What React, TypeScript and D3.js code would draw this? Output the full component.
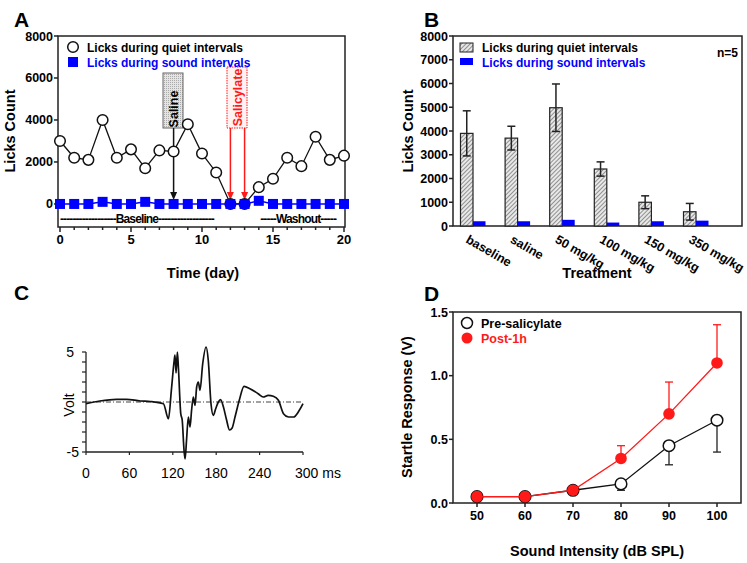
import React from 'react';
import * as d3 from 'd3';

// ---------- Panel A data ----------
const daysA = [0,1,2,3,4,5,6,7,8,9,10,11,12,13,14,15,16,17,18,19,20];
const quietA = [3000,2200,2100,4000,2200,2600,1700,2550,2500,3800,2400,1500,0,0,800,1200,2200,1800,3200,2100,2300];
const soundA = [0,0,0,100,0,0,100,0,0,0,0,0,0,0,150,0,0,0,0,0,0];
const yTicksA = [0,2000,4000,6000,8000];
const xMajorA = [0,5,10,15,20];

// ---------- Panel B data ----------
const treatments = ['baseline','saline','50 mg/kg','100 mg/kg','150 mg/kg','350 mg/kg'];
const quietB = [3900,3700,4980,2400,1000,600];
const quietErrB = [950,500,1000,300,270,350];
const soundB = [180,180,230,130,180,200];
const soundErrB = [20,20,30,15,20,25];
const yTicksB = [0,1000,2000,3000,4000,5000,6000,7000,8000];

// ---------- Panel C data ----------
const traceT = [0,19,42,56,75,89,107,114,118,122,123,124.5,126.3,127.7,131,133,135.5,137,139,141.5,143.8,146,148.4,150.7,153,155.3,157.6,161.3,166,169,172.8,176,179.3,183,186,190,194,198.5,202,206,212,218.5,226.7,238,245,252,259,266,273,280,287,293.5,300];
const traceV = [-0.17,0.1,0.27,0.27,0.1,0.05,-0.17,-1.67,1.17,4.2,4.7,2.9,5.0,3.5,-1.17,-1.8,-4.8,-5.7,-3.8,-1.5,-2.5,-0.8,0.5,-0.33,1.5,2.0,1.17,3.8,5.5,4.2,-0.17,-1.33,-0.67,0,0.23,-0.5,-1.7,-2.8,-2.6,-1.5,0.2,1.57,1.33,0.83,0.5,0.67,0.57,0.17,-1.17,-1.5,-1.5,-1.0,-0.17];
const xTicksC = [0,60,120,180,240,300];
const yTicksC = [-5,-4,-3,-2,-1,0,1,2,3,4,5];

// ---------- Panel D data ----------
const intensities = [50,60,70,80,90,100];
const preD = [0.05,0.05,0.1,0.15,0.45,0.65];
const preErrD = [0,0,0,0.05,0.15,0.25];
const postD = [0.05,0.05,0.1,0.35,0.7,1.1];
const postErrD = [0,0,0,0.1,0.25,0.3];
const yTicksD = [0,0.5,1.0,1.5];

const FONT = '"Liberation Sans", Arial, Helvetica, sans-serif';
const BLUE = '#0000ff';
const RED = '#ff1a1a';

function PanelA() {
  const x = d3.scaleLinear().domain([0, 20]).range([60, 344]);
  const y = d3.scaleLinear().domain([-1050, 8000]).range([226, 36]);
  const left = 58, right = 345, top = 36, bottom = 227;
  const lineQ = d3.line<number>().x((_, i) => x(daysA[i])).y(d => y(d));
  const lineS = d3.line<number>().x((_, i) => x(daysA[i])).y(d => y(d));
  const arrowTip = y(0) - 4;
  const arrow = (xx: number, y0: number, color: string, key: string) => (
    <g key={key}>
      <line x1={xx} x2={xx} y1={y0} y2={arrowTip - 6} stroke={color} strokeWidth={1.5} />
      <path d={`M${xx - 3.5},${arrowTip - 8} L${xx + 3.5},${arrowTip - 8} L${xx},${arrowTip} Z`} fill={color} />
    </g>
  );
  return (
    <g fontFamily={FONT} fontWeight="bold">
      <text x={14} y={27} fontSize={21}>A</text>
      <rect x={left} y={top} width={right - left} height={bottom - top} fill="none" stroke="#222" strokeWidth={1.5} />
      {yTicksA.map(t => (
        <g key={t}>
          <line x1={left - 4} x2={left} y1={y(t)} y2={y(t)} stroke="#222" strokeWidth={1.5} />
          <text x={left - 5} y={y(t) + 4.5} fontSize={12.5} textAnchor="end">{t}</text>
        </g>
      ))}
      {daysA.map(d => (
        <line key={d} x1={x(d)} x2={x(d)} y1={bottom} y2={bottom + (xMajorA.includes(d) ? 5 : 3)} stroke="#222" strokeWidth={1.5} />
      ))}
      {xMajorA.map(d => (
        <text key={d} x={x(d)} y={244} fontSize={13} textAnchor="middle">{d}</text>
      ))}
      <text transform={`translate(15,131) rotate(-90)`} fontSize={14.5} textAnchor="middle">Licks Count</text>
      <text x={203} y={278} fontSize={14.5} textAnchor="middle">Time (day)</text>
      <text x={x(0)} y={223} fontSize={12} textLength={x(10.9) - x(0)} lengthAdjust="spacing">------------------Baseline------------------</text>
      <text x={x(14.1)} y={223} fontSize={12} textLength={x(19.5) - x(14.1)} lengthAdjust="spacing">-----Washout-----</text>
      <defs>
        <pattern id="dots" width={2} height={2} patternUnits="userSpaceOnUse">
          <rect width={2} height={2} fill="#e4e4e4" />
          <rect width={1} height={1} fill="#aaa" />
        </pattern>
      </defs>
      <rect x={163} y={73} width={20} height={55} fill="url(#dots)" stroke="#666" strokeWidth={1} />
      <text transform={`translate(177.5,109) rotate(-90)`} fontSize={12.5} textAnchor="middle">Saline</text>
      <rect x={227} y={67} width={20} height={61} fill="#fff2f2" stroke={RED} strokeWidth={1} strokeDasharray="1.5,1" />
      <text transform={`translate(241.5,97.5) rotate(-90)`} fontSize={12.5} textAnchor="middle" fill={RED}>Salicylate</text>
      {arrow(x(8), 128, '#111', 'a1')}
      {arrow(x(12), 128, RED, 'a2')}
      {arrow(x(13), 128, RED, 'a3')}
      <path d={lineQ(quietA) || ''} fill="none" stroke="#111" strokeWidth={1.3} />
      {quietA.map((v, i) => (
        <circle key={i} cx={x(daysA[i])} cy={y(v)} r={5.3} fill="#fff" stroke="#111" strokeWidth={1.5} />
      ))}
      <path d={lineS(soundA) || ''} fill="none" stroke={BLUE} strokeWidth={1.5} />
      {soundA.map((v, i) => (
        <rect key={i} x={x(daysA[i]) - 5} y={y(v) - 5} width={10} height={10} fill={BLUE} />
      ))}
      <circle cx={73} cy={47} r={5.3} fill="#fff" stroke="#111" strokeWidth={1.5} />
      <text x={87} y={52} fontSize={12}>Licks during quiet intervals</text>
      <rect x={68} y={57} width={10} height={10} fill={BLUE} />
      <text x={87} y={67} fontSize={12} fill={BLUE}>Licks during sound intervals</text>
    </g>
  );
}

function PanelB() {
  const gx = d3.scalePoint<string>().domain(treatments).range([473, 696]);
  const y = d3.scaleLinear().domain([0, 8000]).range([226, 36]);
  const left = 453, right = 742, top = 36, bottom = 226;
  const bw = 12.5;
  return (
    <g fontFamily={FONT} fontWeight="bold">
      <defs>
        <pattern id="hatch" width={3} height={3} patternUnits="userSpaceOnUse" patternTransform="rotate(45)">
          <rect width={3} height={3} fill="#e8e8e8" />
          <line x1={0} y1={0} x2={0} y2={3} stroke="#555" strokeWidth={1.2} />
        </pattern>
      </defs>
      <text x={424} y={27} fontSize={21}>B</text>
      <rect x={left} y={top} width={right - left} height={bottom - top} fill="none" stroke="#222" strokeWidth={1.5} />
      {yTicksB.map(t => (
        <g key={t}>
          <line x1={left - 4} x2={left} y1={y(t)} y2={y(t)} stroke="#222" strokeWidth={1.5} />
          <text x={left - 5} y={y(t) + 4.5} fontSize={12.5} textAnchor="end">{t}</text>
        </g>
      ))}
      {treatments.map((c, i) => {
        const cx = gx(c) as number;
        const ex = cx - bw / 2;
        return (
          <g key={c}>
            <rect x={cx - bw} y={y(quietB[i])} width={bw} height={y(0) - y(quietB[i])} fill="url(#hatch)" stroke="#222" strokeWidth={1.2} />
            <line x1={ex} x2={ex} y1={y(quietB[i] + quietErrB[i])} y2={y(quietB[i] - quietErrB[i])} stroke="#222" strokeWidth={1.5} />
            <line x1={ex - 4} x2={ex + 4} y1={y(quietB[i] + quietErrB[i])} y2={y(quietB[i] + quietErrB[i])} stroke="#222" strokeWidth={1.5} />
            <line x1={ex - 4} x2={ex + 4} y1={y(quietB[i] - quietErrB[i])} y2={y(quietB[i] - quietErrB[i])} stroke="#222" strokeWidth={1.5} />
            <rect x={cx} y={y(soundB[i] + soundErrB[i])} width={bw} height={y(0) - y(soundB[i] + soundErrB[i])} fill={BLUE} />
            <text transform={`translate(${cx - 8},242) rotate(30)`} fontSize={12.5}>{c}</text>
          </g>
        );
      })}
      <text transform={`translate(413,131) rotate(-90)`} fontSize={14.5} textAnchor="middle">Licks Count</text>
      <text x={597} y={278} fontSize={14.5} textAnchor="middle">Treatment</text>
      <rect x={460} y={43} width={13} height={9} fill="url(#hatch)" stroke="#222" strokeWidth={1} />
      <text x={482} y={52} fontSize={12}>Licks during quiet intervals</text>
      <rect x={460} y={58} width={13} height={7} fill={BLUE} />
      <text x={482} y={67} fontSize={12} fill={BLUE}>Licks during sound intervals</text>
      <text x={717} y={57} fontSize={12}>n=5</text>
    </g>
  );
}

function PanelC() {
  const x = d3.scaleLinear().domain([0, 300]).range([86, 303]);
  const y = d3.scaleLinear().domain([-5, 5]).range([452, 352]);
  const line = d3.line<number>().x((_, i) => x(traceT[i])).y(d => y(d)).curve(d3.curveMonotoneX);
  return (
    <g fontFamily={FONT}>
      <text x={14} y={300} fontSize={21} fontWeight="bold">C</text>
      <line x1={x(0)} x2={x(0)} y1={y(5)} y2={y(-5)} stroke="#222" strokeWidth={1.3} />
      <line x1={x(0)} x2={x(300)} y1={y(-5)} y2={y(-5)} stroke="#222" strokeWidth={1.3} />
      {yTicksC.map(t => (
        <line key={t} x1={x(0) - 4} x2={x(0)} y1={y(t)} y2={y(t)} stroke="#222" strokeWidth={1.2} />
      ))}
      {xTicksC.map(t => (
        <line key={t} x1={x(t)} x2={x(t)} y1={y(-5)} y2={y(-5) + 3} stroke="#222" strokeWidth={1.2} />
      ))}
      <text x={74} y={y(5) + 5} fontSize={14} textAnchor="end">5</text>
      <text x={79} y={y(-5) + 5} fontSize={14} textAnchor="end">-5</text>
      <text transform={`translate(74,405) rotate(-90)`} fontSize={14} textAnchor="middle">Volt</text>
      {xTicksC.map(t => (
        t === 300
          ? <text key={t} x={x(t) - 8} y={478} fontSize={14}>300 ms</text>
          : <text key={t} x={x(t)} y={478} fontSize={14} textAnchor="middle">{t}</text>
      ))}
      <line x1={x(0)} x2={x(300)} y1={y(0)} y2={y(0)} stroke="#444" strokeWidth={1} strokeDasharray="5,2,1,2" />
      <path d={line(traceV) || ''} fill="none" stroke="#111" strokeWidth={1.7} strokeLinejoin="round" />
    </g>
  );
}

function PanelD() {
  const x = d3.scaleLinear().domain([45, 105]).range([453, 741]);
  const y = d3.scaleLinear().domain([0, 1.5]).range([503, 312]);
  const left = 453, right = 741, top = 312, bottom = 503;
  const line = d3.line<number>().x((_, i) => x(intensities[i])).y(d => y(d));
  return (
    <g fontFamily={FONT} fontWeight="bold">
      <text x={424} y={301} fontSize={21}>D</text>
      <rect x={left} y={top} width={right - left} height={bottom - top} fill="none" stroke="#222" strokeWidth={1.5} />
      {yTicksD.map(t => (
        <g key={t}>
          <line x1={left - 4} x2={left} y1={y(t)} y2={y(t)} stroke="#222" strokeWidth={1.5} />
          <text x={left - 5} y={y(t) + 4.5} fontSize={12.5} textAnchor="end">{t.toFixed(1)}</text>
        </g>
      ))}
      {intensities.map(t => (
        <g key={t}>
          <line x1={x(t)} x2={x(t)} y1={bottom} y2={bottom + 4} stroke="#222" strokeWidth={1.5} />
          <text x={x(t)} y={520} fontSize={12.5} textAnchor="middle">{t}</text>
        </g>
      ))}
      <text transform={`translate(412,407) rotate(-90)`} fontSize={14.5} textAnchor="middle">Startle Response (V)</text>
      <text x={597} y={556} fontSize={14.5} textAnchor="middle">Sound Intensity (dB SPL)</text>
      {preD.map((v, i) => preErrD[i] > 0 ? (
        <g key={'pe' + i}>
          <line x1={x(intensities[i])} x2={x(intensities[i])} y1={y(v)} y2={y(v - preErrD[i])} stroke="#222" strokeWidth={1.3} />
          <line x1={x(intensities[i]) - 4} x2={x(intensities[i]) + 4} y1={y(v - preErrD[i])} y2={y(v - preErrD[i])} stroke="#222" strokeWidth={1.3} />
        </g>
      ) : null)}
      {postD.map((v, i) => postErrD[i] > 0 ? (
        <g key={'qe' + i}>
          <line x1={x(intensities[i])} x2={x(intensities[i])} y1={y(v)} y2={y(v + postErrD[i])} stroke={RED} strokeWidth={1.3} />
          <line x1={x(intensities[i]) - 4} x2={x(intensities[i]) + 4} y1={y(v + postErrD[i])} y2={y(v + postErrD[i])} stroke={RED} strokeWidth={1.3} />
        </g>
      ) : null)}
      <path d={line(preD) || ''} fill="none" stroke="#111" strokeWidth={1.3} />
      {preD.map((v, i) => (
        <circle key={'p' + i} cx={x(intensities[i])} cy={y(v)} r={5.8} fill="#fff" stroke="#111" strokeWidth={1.5} />
      ))}
      <path d={line(postD) || ''} fill="none" stroke={RED} strokeWidth={1.3} />
      {postD.map((v, i) => (
        <circle key={'q' + i} cx={x(intensities[i])} cy={y(v)} r={5.8} fill={RED} />
      ))}
      <circle cx={467} cy={323} r={5.5} fill="#fff" stroke="#111" strokeWidth={1.5} />
      <text x={481} y={328} fontSize={12.5}>Pre-salicylate</text>
      <circle cx={467} cy={338} r={5.5} fill={RED} />
      <text x={481} y={343} fontSize={12.5} fill={RED}>Post-1h</text>
    </g>
  );
}

export default function App() {
  return (
    <svg width={747} height={563} style={{ position: 'absolute', left: 0, top: 0, background: '#fff' }}>
      <rect width={747} height={563} fill="#fff" />
      <PanelA />
      <PanelB />
      <PanelC />
      <PanelD />
    </svg>
  );
}
